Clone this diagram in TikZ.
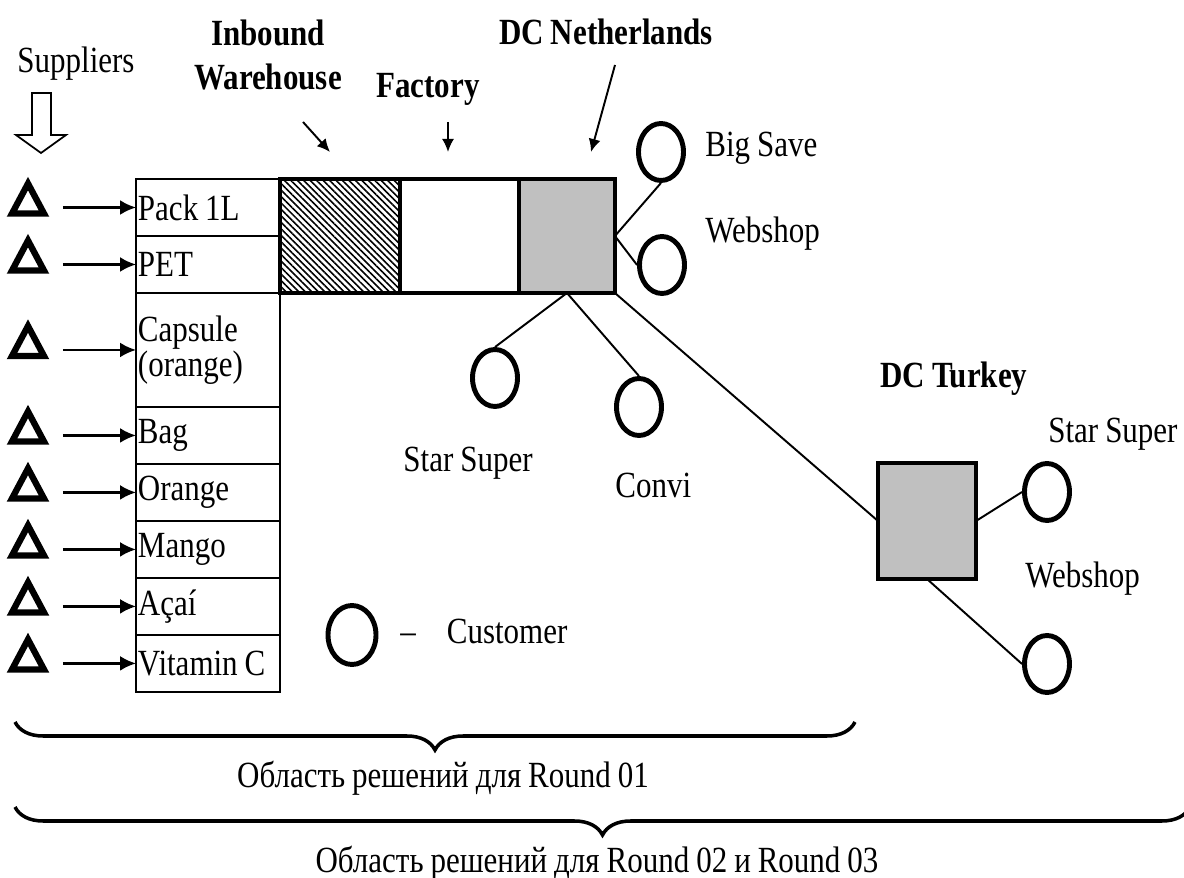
\documentclass[tikz,border=0pt]{standalone}
\usepackage{fontspec}
\setmainfont{Liberation Serif}[FakeStretch=0.84, WordSpace=0.9]
\usetikzlibrary{positioning,shapes.geometric,arrows.meta,patterns.meta,decorations.pathreplacing}
\definecolor{dcgrey}{RGB}{192,192,192}
\tikzset{
  lbl/.style={inner sep=0pt, font=\fontsize{21}{25}\selectfont},
  hdr/.style={inner sep=0pt, font=\fontsize{21}{25}\selectfont\bfseries},
  cell/.style={draw, line width=1.1pt, anchor=north west, outer sep=0pt, text width=2.8cm, inner xsep=0.04cm, inner ysep=0pt, minimum height=1.14cm, align=flush left, font=\fontsize{21}{18}\selectfont},
  dcbox/.style={draw, line width=2.2pt, outer sep=0pt, inner sep=0pt, minimum height=2.28cm},
  cust/.style={draw, ellipse, line width=2.8pt, inner sep=0pt, minimum width=0.9cm, minimum height=1.14cm},
  supp/.style={draw, isosceles triangle, isosceles triangle stretches, shape border rotate=90, line width=3.6pt, inner sep=0pt, minimum width=0.64cm, minimum height=0.6cm},
  feed/.style={-{Latex[length=0.32cm,width=0.3cm]}, line width=1.4pt, shorten <=0.7cm},
  pointer/.style={-{Latex[length=0.26cm,width=0.24cm]}, line width=1.1pt},
  link/.style={line width=1.1pt},
  brace/.style={decorate, decoration={brace, mirror, amplitude=0.56cm}, line width=2pt}
}
\begin{document}
\begin{tikzpicture}[x=0.02cm, y=-0.02cm]
\useasboundingbox (0,0) rectangle (1184,878);

% suppliers
\node[lbl, anchor=base] (supl) at (76,73) {Suppliers};
\draw[line width=1pt] (32,93) -- (51,93) -- (51,135) -- (66,135) -- (41,153) -- (16,135) -- (32,135) -- cycle;

% materials
\node[cell] (r1) at (136,179) {Pack 1L};
\node[cell, below=0pt of r1] (r2) {PET};
\node[cell, below=0pt of r2, minimum height=2.28cm] (r3) {Capsule\\(orange)};
\node[cell, below=0pt of r3] (r4) {Bag};
\node[cell, below=0pt of r4] (r5) {Orange};
\node[cell, below=0pt of r5] (r6) {Mango};
\node[cell, below=0pt of r6] (r7) {Açaí};
\node[cell, below=0pt of r7] (r8) {Vitamin C};

\coordinate (sx) at (28,0);
\foreach \i in {1,...,8}{
  \node[supp, yshift=2pt] (s\i) at (r\i.west -| sx) {};
  \draw[feed] (s\i |- r\i.west) -- (r\i.west);
}

% chain
\node[dcbox, anchor=north west, minimum width=2.4cm, pattern={Lines[angle=-45,distance=2.6pt,line width=0.9pt]}] (iw) at (280,179) {};
\node[dcbox, right=0pt of iw, minimum width=2.38cm] (fac) {};
\node[dcbox, right=0pt of fac, minimum width=1.92cm, fill=dcgrey] (nl) {};
\node[dcbox, minimum width=1.96cm, minimum height=2.32cm, fill=dcgrey] (tr) at (927,521) {};

\node[hdr, align=center] (iwl) at (268,55) {Inbound\\Warehouse};
\node[hdr, anchor=base] (facl) at (428,98) {Factory};
\node[hdr, anchor=base] (nll) at (606,45) {DC Netherlands};
\node[hdr, anchor=base west] (trl) at (880,388) {DC Turkey};

\coordinate (iwt) at (303,122);
\coordinate (iwh) at (330,152);
\coordinate (fat) at (448,122);
\coordinate (fah) at (448,152);
\coordinate (nlt) at (615,65);
\coordinate (nlh) at (591,152);
\draw[pointer] (iwt) -- (iwh);
\draw[pointer] (fat) -- (fah);
\draw[pointer] (nlt) -- (nlh);

% customers
\node[cust] (bs) at (661,152) {};
\node[cust] (ws1) at (662,265) {};
\node[cust] (ss1) at (495,378) {};
\node[cust] (cv) at (639,407) {};
\node[cust] (ss2) at (1047,492) {};
\node[cust] (ws2) at (1047,664) {};

\node[lbl, anchor=base west] (bsl) at (705,157) {Big Save};
\node[lbl, anchor=base west] (ws1l) at (705,243) {Webshop};
\node[lbl, anchor=base east] (ss1l) at (533,472) {Star Super};
\node[lbl, anchor=base west] (cvl) at (615,498) {Convi};
\node[lbl, anchor=base west] (ss2l) at (1048,443) {Star Super};
\node[lbl, anchor=base west] (ws2l) at (1025,587) {Webshop};

\draw[link] (nl.east) -- (bs.south);
\draw[link] (nl.east) -- (ws1.west);
\draw[link] (nl.south) -- (ss1.north);
\draw[link] (nl.south) -- (cv.north);
\draw[link] (nl.south east) -- (tr.west);
\draw[link] (tr.east) -- (ss2.west);
\draw[link] (tr.south) -- (ws2.west);

% legend
\node[cust, minimum width=0.96cm, minimum height=1.18cm] (lg) at (352,635) {};
\node[lbl, anchor=base west] (lgl) at (400,643) {–\hspace{0.62cm}Customer};

% scope of rounds
\draw[brace] (15,722) -- (855,722);
\node[lbl, anchor=base] (rd1) at (443,787) {Область решений для Round 01};
\draw[brace] (15,807) -- (1190,807);
\node[lbl, anchor=base] (rd23) at (597,872) {Область решений для Round 02 и Round 03};
\end{tikzpicture}
\end{document}
